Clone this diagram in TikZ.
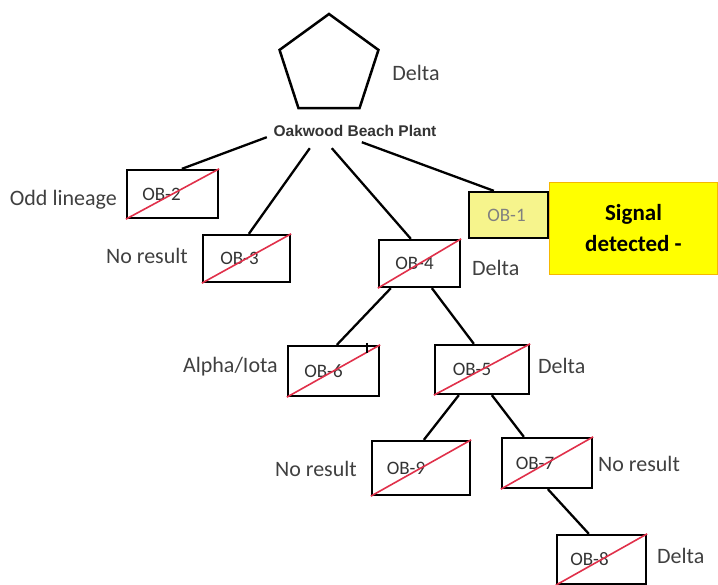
\documentclass[tikz,border=0pt]{standalone}
\usepackage{fontspec}
\setmainfont{Carlito}
\newfontfamily\plantfont{Liberation Sans}
\usetikzlibrary{shapes.geometric,calc}
\definecolor{crossred}{HTML}{E0304A}
\definecolor{oblight}{HTML}{F6F48C}
\definecolor{sigyellow}{HTML}{FFFF00}
\definecolor{sigorange}{HTML}{F5B800}
\definecolor{boxtext}{HTML}{333333}
\newcommand{\obt}[2]{\raisebox{-3pt}{#1}\hspace*{#2}}
\begin{document}
\begin{tikzpicture}[x=1pt,y=-1pt,
  obbox/.style={draw=black,line width=2.3pt,rectangle,inner sep=0pt,font=\fontsize{19}{22}\selectfont,text=boxtext},
  lbl/.style={font=\fontsize{22}{26}\selectfont,text=black!75,inner sep=0pt},
  conn/.style={line width=2.3pt,black},
  cross/.style={line width=1.6pt,crossred}]
\useasboundingbox (0,0) rectangle (718,585);
% plant
\node[regular polygon,regular polygon sides=5,minimum size=104pt,draw,line width=2.5pt,inner sep=0pt] (pent) at (329,66) {};
\node[lbl,anchor=center] (pdelta) at (416,73) {Delta};
\node[font=\plantfont\fontsize{15.5}{17}\bfseries\selectfont,text=black!80,minimum width=165pt,minimum height=23pt,inner sep=0pt] (plant) at (355,131) {Oakwood Beach Plant};
% boxes
\node[obbox,minimum width=91pt,minimum height=48pt] (b2) at (172.5,194) {\obt{OB-2}{22pt}};
\node[obbox,minimum width=87pt,minimum height=47pt] (b3) at (246.5,258.5) {\obt{OB-3}{14pt}};
\node[obbox,minimum width=79pt,minimum height=46pt,fill=oblight,text=black!50] (b1) at (508.5,215) {\obt{OB-1}{4pt}};
\node[obbox,minimum width=81pt,minimum height=47pt] (b4) at (419.5,263.5) {\obt{OB-4}{10pt}};
\node[obbox,minimum width=91pt,minimum height=50pt] (b6) at (333.5,371) {\obt{OB-6}{20pt}};
\node[obbox,minimum width=94pt,minimum height=49pt] (b5) at (482,369.5) {\obt{OB-5}{20pt}};
\node[obbox,minimum width=98pt,minimum height=54pt] (b9) at (421,468) {\obt{OB-9}{30pt}};
\node[obbox,minimum width=90pt,minimum height=50pt] (b7) at (547,463) {\obt{OB-7}{24pt}};
\node[obbox,minimum width=89pt,minimum height=49pt] (b8) at (601.5,559.5) {\obt{OB-8}{24pt}};
% signal
\node[draw=sigorange,fill=sigyellow,line width=1.5pt,minimum width=168pt,minimum height=92pt,inner sep=0pt,align=center,font=\fontsize{23}{31}\bfseries\selectfont] (sig) at (633.5,228.5) {Signal\\detected -};
% labels
\node[lbl,anchor=east] (l2) at (117,200) {Odd lineage};
\node[lbl,anchor=east] (l3) at (188,256) {No result};
\node[lbl,anchor=west] (l4) at (472,268) {Delta};
\node[lbl,anchor=east] (l6) at (278,367) {Alpha/Iota};
\node[lbl,anchor=west] (l5) at (538,366) {Delta};
\node[lbl,anchor=east] (l9) at (357,469) {No result};
\node[lbl,anchor=west] (l7) at (598,464) {No result};
\node[lbl,anchor=west] (l8) at (657,556) {Delta};
% connectors
\draw[conn] ($(plant.south west)+(-5.5,-5.5)$) -- ($(b2.north west)+(56,0)$);
\draw[conn] ($(plant.south west)+(37.5,5.5)$) -- ($(b3.north west)+(47,0)$);
\draw[conn] ($(plant.south west)+(59.5,5.5)$) -- ($(b4.north west)+(33,0)$);
\draw[conn] ($(plant.south west)+(89.5,-0.5)$) -- ($(b1.north west)+(26,0)$);
\draw[conn] ($(b4.south west)+(13,0)$) -- ($(b6.north west)+(50,0)$);
\draw[conn] ($(b4.south west)+(54,0)$) -- ($(b5.north west)+(40,0)$);
\draw[conn] ($(b5.south west)+(25,0)$) -- ($(b9.north west)+(53,0)$);
\draw[conn] ($(b5.south west)+(58,0)$) -- ($(b7.north west)+(23,0)$);
\draw[conn] ($(b7.south west)+(47,0)$) -- ($(b8.north west)+(33,0)$);
% crosses
\foreach \b in {b2,b3,b4,b6,b5,b9,b7,b8}{\draw[cross] (\b.south west) -- (\b.north east);}
\draw[line width=1.5pt] ($(b6.north east)+(-13,-2)$) -- ($(b6.north east)+(-13,8)$);
\end{tikzpicture}
\end{document}
